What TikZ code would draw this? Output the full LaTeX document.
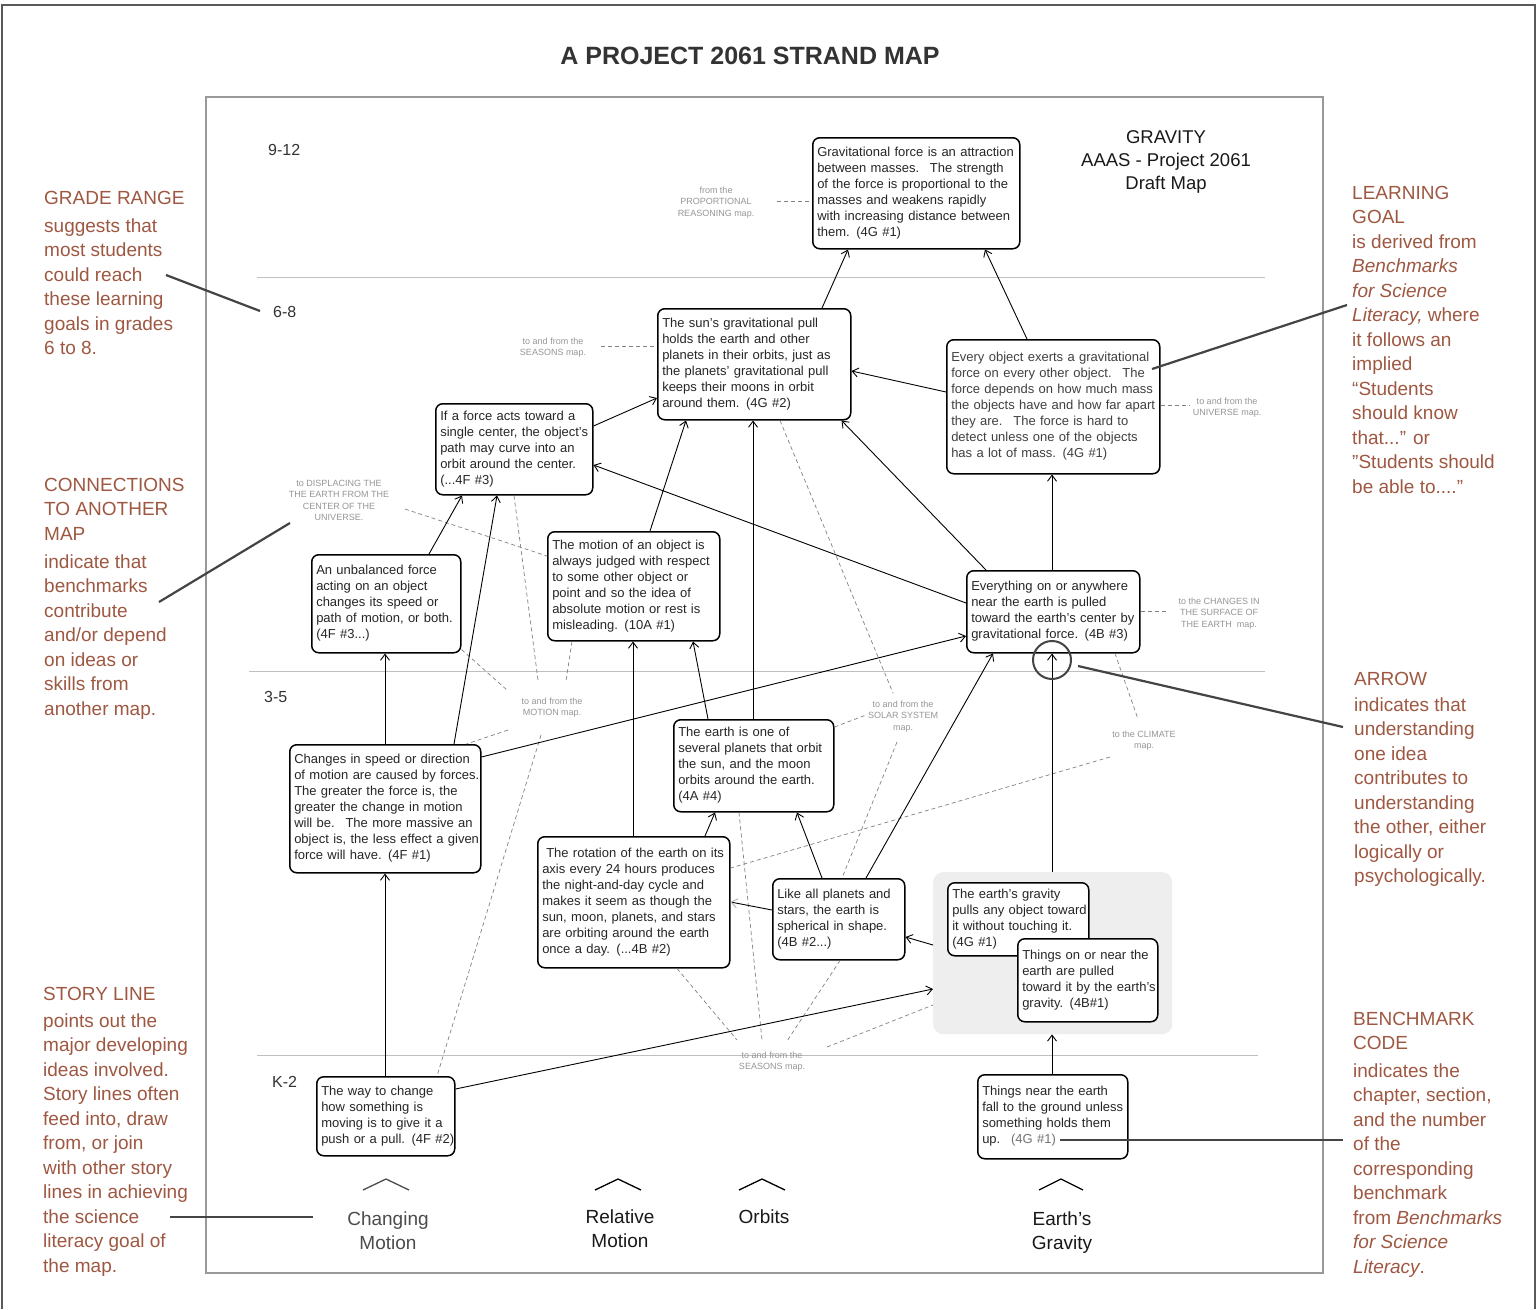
\documentclass[tikz,border=0pt]{standalone}
\usepackage{fontspec}
\setmainfont{Liberation Sans}
\usetikzlibrary{arrows.meta,calc}
\definecolor{anno}{RGB}{158,88,66}
\definecolor{dashc}{RGB}{130,130,130}
\definecolor{labc}{RGB}{150,150,150}
\definecolor{ptr}{RGB}{68,68,68}
\definecolor{regionc}{RGB}{238,238,238}
\newcommand{\mylines}[1]{\begin{tabular}{@{}l@{}}#1\end{tabular}}
\newcommand{\toplines}[1]{\begin{tabular}[t]{@{}l@{}}#1\end{tabular}}
\newcommand{\topcent}[1]{\begin{tabular}[t]{@{}c@{}}#1\end{tabular}}
\tikzset{
 bx/.style={draw, line width=1.5pt, rounded corners=7pt, fill=white, anchor=north west, inner xsep=4.5pt, inner ysep=0pt, align=left, font=\fontsize{13}{16}\selectfont, text=black!85},
 arr/.style={-{Straight Barb[length=6pt,width=9pt,line width=0.9pt]}, line width=0.9pt},
 dsh/.style={dashc, dash pattern=on 4pt off 3pt, line width=0.7pt},
 glab/.style={labc, font=\fontsize{9}{11.5}\selectfont, anchor=base, inner sep=0pt},
 annot/.style={anno, font=\fontsize{19}{24.5}\selectfont, anchor=base west, inner sep=0pt},
 ptrline/.style={ptr, line width=2.2pt},
 grade/.style={font=\fontsize{16}{18}\selectfont, anchor=base west, inner sep=0pt, text=black!80},
 strand/.style={font=\fontsize{19}{24}\selectfont, anchor=base, inner sep=0pt},
 caret/.style={line width=1.3pt},
 gline/.style={black!25, line width=1pt}
}
\begin{document}
\begin{tikzpicture}[x=1pt,y=-1pt]
\useasboundingbox (0,0) rectangle (1539,1309);
\fill[white] (0,0) rectangle (1539,1309);
% frames
\draw[line width=1.5pt, black!65] (2,1309) -- (2,5) -- (1535,5) -- (1535,1309);
\draw[line width=2pt, black!40] (206,97) rectangle (1323,1273);
% grade lines
\draw[gline] (257,277) -- (1265,277);
\draw[gline] (249,671) -- (1265,671);
\draw[gline] (257,1055) -- (1258,1055);
% title
\node[font=\fontsize{25}{28}\selectfont\bfseries, text=black!80, anchor=base, inner sep=0pt] (title) at (750,64) {A PROJECT 2061 STRAND MAP};
\node[anchor=base, inner sep=0pt, font=\fontsize{18.5}{23}\selectfont, text=black!90] (mapname) at (1166,143) {\topcent{GRAVITY\\AAAS - Project 2061\\Draft Map}};
% grade labels
\node[grade] (g912) at (268,155) {9-12};
\node[grade] (g68) at (273,317) {6-8};
\node[grade] (g35) at (264,702) {3-5};
\node[grade] (gk2) at (272,1087) {K-2};
% region
\node[fill=regionc, rounded corners=10pt, anchor=north west, minimum width=239pt, minimum height=162pt, inner sep=0pt] (grp) at (933,872) {};
% boxes
\node[bx, text width=198pt, minimum height=111pt] (g1) at (812,137) {\mylines{Gravitational force is an attraction\\between masses.~ The strength\\of the force is proportional to the\\masses and weakens rapidly\\with increasing distance between\\them. (4G \#1)}};
\node[bx, text width=184pt, minimum height=111pt] (sun) at (657,308) {\mylines{The sun's gravitational pull\\holds the earth and other\\planets in their orbits, just as\\the planets' gravitational pull\\keeps their moons in orbit\\around them. (4G \#2)}};
\node[bx, text width=204pt, minimum height=134pt, text=black!75] (every) at (946,339) {\mylines{Every object exerts a gravitational\\force on every other object.~ The\\force depends on how much mass\\the objects have and how far apart\\they are.~ The force is hard to\\detect unless one of the objects\\has a lot of mass. (4G \#1)}};
\node[bx, text width=148pt, minimum height=91pt] (force) at (435,403) {\mylines{If a force acts toward a\\single center, the object's\\path may curve into an\\orbit around the center.\\(...4F \#3)}};
\node[bx, text width=140pt, minimum height=98pt] (unbal) at (311,554) {\mylines{An unbalanced force\\acting on an object\\changes its speed or\\path of motion, or both.\\(4F \#3...)}};
\node[bx, text width=163pt, minimum height=109pt] (motion) at (547,531) {\mylines{The motion of an object is\\always judged with respect\\to some other object or\\point and so the idea of\\absolute motion or rest is\\misleading. (10A \#1)}};
\node[bx, text width=164pt, minimum height=82pt] (everything) at (966,570) {\mylines{Everything on or anywhere\\near the earth is pulled\\toward the earth's center by\\gravitational force. (4B \#3)}};
\node[bx, text width=182pt, minimum height=128pt] (changes) at (289,744) {\mylines{Changes in speed or direction\\of motion are caused by forces.\\The greater the force is, the\\greater the change in motion\\will be.~ The more massive an\\object is, the less effect a given\\force will have. (4F \#1)}};
\node[bx, text width=151pt, minimum height=92pt] (earthone) at (673,719) {\mylines{The earth is one of\\several planets that orbit\\the sun, and the moon\\orbits around the earth.\\(4A \#4)}};
\node[bx, text width=183pt, minimum height=131pt] (rotation) at (537,836) {\mylines{\hspace*{4pt}The rotation of the earth on its\\axis every 24 hours produces\\the night-and-day cycle and\\makes it seem as though the\\sun, moon, planets, and stars\\are orbiting around the earth\\once a day. (...4B \#2)}};
\node[bx, text width=123pt, minimum height=81pt] (likeall) at (772,878) {\mylines{Like all planets and\\stars, the earth is\\spherical in shape.\\(4B \#2...)}};
\node[bx, text width=132pt, minimum height=73pt] (gravity) at (947,882) {\mylines{The earth's gravity\\pulls any object toward\\it without touching it.\\(4G \#1)}};
\node[bx, text width=131pt, minimum height=83pt] (onnear) at (1017,938) {\mylines{Things on or near the\\earth are pulled\\toward it by the earth's\\gravity. (4B\#1)}};
\node[bx, text width=141pt, minimum height=84pt] (fall) at (977,1074) {\mylines{Things near the earth\\fall to the ground unless\\something holds them\\up.~ {\color{black!55}(4G \#1)}}};
\node[bx, text width=129pt, minimum height=79pt] (way) at (316,1076) {\mylines{The way to change\\how something is\\moving is to give it a\\push or a pull. (4F \#2)}};
% gray labels
\node[glab] (lprop) at (716,193) {\topcent{from the\\PROPORTIONAL\\REASONING map.}};
\node[glab] (lseas1) at (553,344) {\topcent{to and from the\\SEASONS map.}};
\node[glab] (luniv) at (1227,404) {\topcent{to and from the\\UNIVERSE map.}};
\node[glab] (ldisp) at (339,486) {\topcent{to DISPLACING THE\\THE EARTH FROM THE\\CENTER OF THE\\UNIVERSE.}};
\node[glab] (lmot) at (552,704) {\topcent{to and from the\\MOTION map.}};
\node[glab] (lsolar) at (903,707) {\topcent{to and from the\\SOLAR SYSTEM\\map.}};
\node[glab] (lclim) at (1144,737) {\topcent{to the CLIMATE\\map.}};
\node[glab] (lsurf) at (1219,604) {\topcent{to the CHANGES IN\\THE SURFACE OF\\THE EARTH~ map.}};
\node[glab] (lseas2) at (772,1058) {\topcent{to and from the\\SEASONS map.}};
% dashed connector ends
\coordinate (cProp) at (777,201);
\coordinate (cSeas1) at (601,346);
\coordinate (cUniv) at (1190,405);
\coordinate (cDisp) at (405,509);
\coordinate (cMa) at (507,690);
\coordinate (cMb) at (538,680);
\coordinate (cMc) at (566,681);
\coordinate (cMd) at (508,730);
\coordinate (cMe) at (541,735);
\coordinate (cSa) at (893,693);
\coordinate (cSb) at (866,715);
\coordinate (cSc) at (897,742);
\coordinate (cZa) at (787,1041);
\coordinate (cZb) at (737,1040);
\coordinate (cZc) at (762,1040);
\coordinate (cZd) at (827,1047);
\coordinate (cCa) at (1138,719);
\coordinate (cCb) at (1110,757);
\coordinate (cSurf) at (1168,611);
\draw[dsh] (cProp) -- ($(g1.north west)+(0,64)$);
\draw[dsh] (cSeas1) -- ($(sun.north west)+(0,38)$);
\draw[dsh] ($(every.north east)+(0,66)$) -- (cUniv);
\draw[dsh] (cDisp) -- ($(motion.north west)+(0,25)$);
\draw[dsh] ($(unbal.south east)+(0,-4)$) -- (cMa);
\draw[dsh] ($(force.south west)+(79,0)$) -- (cMb);
\draw[dsh] ($(motion.south west)+(25,0)$) -- (cMc);
\draw[dsh] (cMd) -- ($(changes.north east)+(-15,0)$);
\draw[dsh] (cMe) -- ($(way.north west)+(121,0)$);
\draw[dsh] ($(sun.south west)+(123,0)$) -- (cSa);
\draw[dsh] ($(earthone.north east)+(0,8)$) -- (cSb);
\draw[dsh] (cSc) -- ($(likeall.north west)+(70,0)$);
\draw[dsh] ($(likeall.south west)+(68,0)$) -- (cZa);
\draw[dsh] ($(rotation.south west)+(140,0)$) -- (cZb);
\draw[dsh] ($(earthone.south west)+(66,0)$) -- (cZc);
\draw[dsh] (cZd) -- ($(grp.north west)+(0,133)$);
\draw[dsh] ($(everything.south west)+(149,0)$) -- (cCa);
\draw[dsh] (cCb) -- ($(rotation.north east)+(0,32)$);
\draw[dsh] ($(everything.north east)+(0,41)$) -- (cSurf);
% arrows
\draw[arr] ($(sun.north west)+(165,0)$) -- ($(g1.south west)+(36,0)$);
\draw[arr] ($(every.north west)+(81,0)$) -- ($(g1.south west)+(173,0)$);
\draw[arr] ($(every.north west)+(0,53)$) -- ($(sun.north east)+(0,63)$);
\draw[arr] ($(force.north east)+(0,23)$) -- ($(sun.north west)+(0,90)$);
\draw[arr] ($(motion.north west)+(103,0)$) -- ($(sun.south west)+(29,0)$);
\draw[arr] ($(earthone.north west)+(80,0)$) -- ($(sun.south west)+(96,0)$);
\draw[arr] ($(everything.north west)+(20,0)$) -- ($(sun.south east)+(-10,0)$);
\draw[arr] ($(everything.north west)+(0,33)$) -- ($(force.north east)+(0,62)$);
\draw[arr] ($(unbal.north west)+(118,0)$) -- ($(force.south west)+(27,0)$);
\draw[arr] ($(changes.north west)+(165,0)$) -- ($(force.south west)+(62,0)$);
\draw[arr] ($(changes.north west)+(96,0)$) -- ($(unbal.south west)+(74,0)$);
\draw[arr] ($(changes.north east)+(0,13)$) -- ($(everything.north west)+(0,66)$);
\draw[arr] ($(rotation.north west)+(96,0)$) -- ($(motion.south west)+(86,0)$);
\draw[arr] ($(earthone.north west)+(35,0)$) -- ($(motion.south west)+(146,0)$);
\draw[arr] ($(rotation.north west)+(168,0)$) -- ($(earthone.south west)+(42,0)$);
\draw[arr] ($(likeall.north west)+(50,0)$) -- ($(earthone.south west)+(124,0)$);
\draw[arr] ($(likeall.north west)+(94,0)$) -- ($(everything.south west)+(27,0)$);
\draw[arr] ($(grp.north west)+(119,0)$) -- ($(everything.south west)+(86,0)$);
\draw[arr] ($(everything.north west)+(86,0)$) -- ($(every.south west)+(106,0)$);
\draw[arr] ($(grp.north west)+(0,73)$) -- ($(likeall.north east)+(0,59)$);
\draw[line width=0.9pt, -{Straight Barb[length=6pt,width=9pt,line width=0.9pt,color=black!30]}] ($(likeall.north west)+(0,32)$) -- ($(rotation.north east)+(0,66)$);
\draw[arr] ($(way.north west)+(69,0)$) -- ($(changes.south west)+(96,0)$);
\draw[arr] ($(way.north east)+(0,13)$) -- ($(grp.north west)+(0,117)$);
\draw[arr] ($(fall.north west)+(75,0)$) -- ($(grp.south west)+(119,0)$);
% strand labels
\draw[caret, black!70] (363,1190) -- (386,1179) -- (409,1190);
\draw[caret] (595,1190) -- (618,1179) -- (641,1190);
\draw[caret] (739,1190) -- (762,1179) -- (785,1190);
\draw[caret] (1039,1190) -- (1061,1179) -- (1083,1190);
\node[strand, text=black!70] (sChg) at (388,1225) {\topcent{Changing\\Motion}};
\node[strand, text=black!90] (sRel) at (620,1223) {\topcent{Relative\\Motion}};
\node[strand, text=black!90] (sOrb) at (764,1223) {Orbits};
\node[strand, text=black!90] (sEarth) at (1062,1225) {\topcent{Earth’s\\Gravity}};
% annotations
\node[annot] (aGRh) at (44,204) {GRADE RANGE};
\node[annot] (aGRb) at (44,232) {\toplines{suggests that\\most students\\could reach\\these learning\\goals in grades\\6 to 8.}};
\node[annot] (aCNh) at (44,491) {\toplines{CONNECTIONS\\TO ANOTHER\\MAP}};
\node[annot] (aCNb) at (44,568) {\toplines{indicate that\\benchmarks\\contribute\\and/or depend\\on ideas or\\skills from\\another map.}};
\node[annot] (aSLh) at (43,1000) {STORY LINE};
\node[annot] (aSLb) at (43,1027) {\toplines{points out the\\major developing\\ideas involved.\\Story lines often\\feed into, draw\\from, or join\\with other story\\lines in achieving\\the science\\literacy goal of\\the map.}};
\node[annot] (aLGh) at (1352,199) {\toplines{LEARNING\\GOAL}};
\node[annot] (aLGb) at (1352,248) {\toplines{is derived from\\\textit{Benchmarks}\\\textit{for Science}\\\textit{Literacy,} where\\it follows an\\implied\\“Students\\should know\\that...” or\\"Students should\\be able to....”}};
\node[annot] (aARh) at (1354,685) {ARROW};
\node[annot] (aARb) at (1354,711) {\toplines{indicates that\\understanding\\one idea\\contributes to\\understanding\\the other, either\\logically or\\psychologically.}};
\node[annot] (aBCh) at (1353,1025) {\toplines{BENCHMARK\\CODE}};
\node[annot] (aBCb) at (1353,1077) {\toplines{indicates the\\chapter, section,\\and the number\\of the\\corresponding\\benchmark\\from \textit{Benchmarks}\\\textit{for Science}\\\textit{Literacy}.}};
% pointer lines
\coordinate (pGRa) at (166,275); \coordinate (pGRb) at (260,311);
\coordinate (pCNa) at (159,602); \coordinate (pCNb) at (290,523);
\coordinate (pSLa) at (170,1217); \coordinate (pSLb) at (313,1217);
\coordinate (pLGa) at (1152,369); \coordinate (pLGb) at (1347,305);
\coordinate (pARa) at (1078,666); \coordinate (pARb) at (1343,727);
\coordinate (pBCa) at (1060,1140); \coordinate (pBCb) at (1343,1140);
\draw[ptrline] (pGRa) -- (pGRb);
\draw[ptrline] (pCNa) -- (pCNb);
\draw[ptrline] (pSLa) -- (pSLb);
\draw[ptrline] (pLGa) -- (pLGb);
\draw[ptrline] (pARa) -- (pARb);
\draw[ptrline] (pBCa) -- (pBCb);
\draw[ptr, line width=2pt] (1052,660) circle[radius=19];
\end{tikzpicture}
\end{document}
